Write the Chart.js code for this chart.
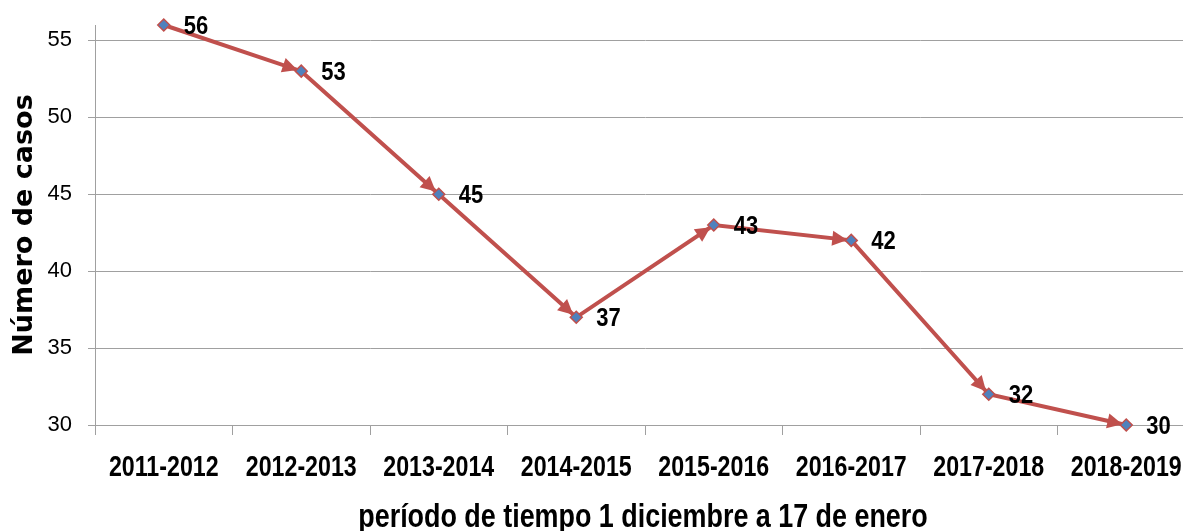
<!DOCTYPE html>
<html>
<head>
<meta charset="utf-8">
<script src="https://cdn.jsdelivr.net/npm/chart.js@4/dist/chart.umd.min.js"></script>
<style>
html,body{margin:0;padding:0;background:#fff;overflow:hidden;width:1183px;height:531px;}
canvas{display:block;}
</style>
</head>
<body>
<canvas id="c" width="1195" height="531"></canvas>
<script>
const categories = ["2011-2012","2012-2013","2013-2014","2014-2015","2015-2016","2016-2017","2017-2018","2018-2019"];
const casos = [56, 53, 45, 37, 43, 42, 32, 30];
const yTicks = [30, 35, 40, 45, 50, 55];
const xTitle = "período de tiempo 1 diciembre a 17 de enero";
const yTitle = "Número de casos";

const SANS = "'Liberation Sans', Arial, sans-serif";
const LINE = '#C0504D';

function narrowText(ctx, text, x, y, sx) {
  ctx.save();
  ctx.translate(x, y);
  ctx.scale(sx, 1);
  ctx.fillText(text, 0, 0);
  ctx.restore();
}

const arrowPlugin = {
  id: 'arrows',
  beforeDatasetsDraw(chart) {
    const ctx = chart.ctx;
    const pts = chart.getDatasetMeta(0).data;
    ctx.save();
    ctx.fillStyle = LINE;
    for (let i = 1; i < pts.length; i++) {
      const a = pts[i-1], b = pts[i];
      const dx = b.x - a.x, dy = b.y - a.y;
      const len = Math.hypot(dx, dy);
      const ux = dx/len, uy = dy/len;
      const tipX = b.x - ux*4, tipY = b.y - uy*4;
      const L = 15, W = 7.5;
      const bx = tipX - ux*L, by = tipY - uy*L;
      ctx.beginPath();
      ctx.moveTo(tipX, tipY);
      ctx.lineTo(bx - uy*W, by + ux*W);
      ctx.lineTo(bx + uy*W, by - ux*W);
      ctx.closePath();
      ctx.fill();
    }
    ctx.restore();
  }
};

const textPlugin = {
  id: 'texts',
  afterDatasetsDraw(chart) {
    const ctx = chart.ctx;
    const pts = chart.getDatasetMeta(0).data;
    const data = chart.data.datasets[0].data;
    const xs = chart.scales.x;
    ctx.save();
    ctx.fillStyle = '#000';
    // value labels
    ctx.font = "bold 25px " + SANS;
    ctx.textAlign = 'left';
    ctx.textBaseline = 'middle';
    pts.forEach((p, i) => narrowText(ctx, String(data[i]), p.x + 20, p.y + 2, 0.88));
    // category labels
    ctx.font = "bold 29px " + SANS;
    ctx.textAlign = 'center';
    ctx.textBaseline = 'alphabetic';
    chart.data.labels.forEach((lab, i) => narrowText(ctx, lab, xs.getPixelForValue(i), xs.top + 51, 0.8));
    // x axis title
    ctx.font = "bold 33px " + SANS;
    narrowText(ctx, xTitle, (xs.left + xs.right) / 2 - 2, xs.top + 102, 0.815);
    ctx.restore();
  }
};

new Chart(document.getElementById('c'), {
  type: 'line',
  data: {
    labels: categories,
    datasets: [{
      data: casos,
      borderColor: LINE,
      borderWidth: 4,
      tension: 0,
      fill: false,
      clip: false,
      pointStyle: 'rectRot',
      pointRadius: 6,
      pointBackgroundColor: '#4F81BD',
      pointBorderColor: LINE,
      pointBorderWidth: 1.5,
      pointHoverRadius: 6
    }]
  },
  options: {
    responsive: false,
    animation: false,
    devicePixelRatio: 1,
    layout: { autoPadding: false, padding: { top: 25, left: 11, right: 0, bottom: 0 } },
    plugins: { legend: { display: false }, tooltip: { enabled: false } },
    scales: {
      x: {
        type: 'category',
        offset: true,
        grid: { display: true, offset: true, drawOnChartArea: false, drawTicks: true, tickLength: 10, color: '#a0a0a0' },
        border: { display: true, color: '#a0a0a0' },
        ticks: { display: false, autoSkip: false },
        title: { display: false, text: xTitle },
        afterFit(s) { s.height = 106; }
      },
      y: {
        min: 30,
        max: 56,
        afterBuildTicks(s) { s.ticks = yTicks.map(v => ({ value: v })); },
        grid: { color: '#a0a0a0', tickLength: 7, drawTicks: true },
        border: { display: true, color: '#a0a0a0' },
        ticks: { color: '#000', font: { family: SANS, size: 22, lineHeight: 0.6 }, padding: 16 },
        title: { display: true, text: yTitle, color: '#000', font: { family: "'DejaVu Sans', sans-serif", size: 27, weight: 'bold', lineHeight: 1 }, padding: 0 },
        afterFit(s) { s.width = 84; }
      }
    }
  },
  plugins: [arrowPlugin, textPlugin]
});
</script>
</body>
</html>
